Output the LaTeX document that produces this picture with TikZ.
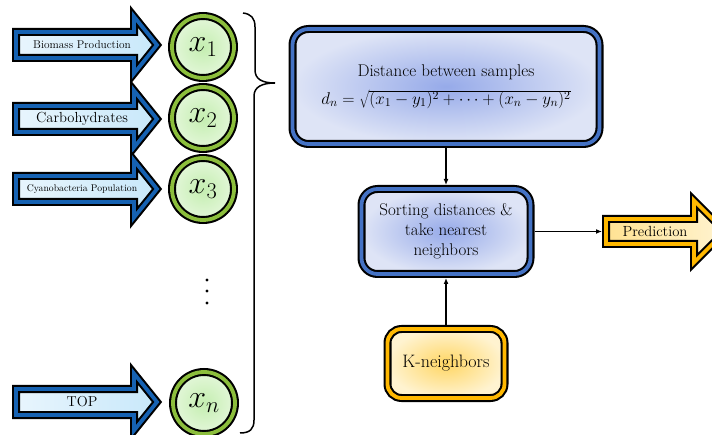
\RequirePackage{fix-cm}
\documentclass[tikz,border=0pt]{standalone}
\usetikzlibrary{arrows.meta}

\definecolor{inborder}{RGB}{22,98,178}
\definecolor{inmid}{RGB}{140,206,247}
\definecolor{inedge}{RGB}{232,245,253}
\definecolor{inright}{RGB}{200,232,250}
\definecolor{grborder}{RGB}{140,190,60}
\definecolor{grin}{RGB}{196,238,176}
\definecolor{grout}{RGB}{228,247,218}
\definecolor{bxborder}{RGB}{68,114,196}
\definecolor{bxin}{RGB}{150,170,233}
\definecolor{bxout}{RGB}{222,228,246}
\definecolor{orborder}{RGB}{255,184,0}
\definecolor{orin}{RGB}{255,214,100}
\definecolor{orout}{RGB}{255,243,208}

\tikzset{
  triple/.style={draw=black, double=#1, line width=2.1pt, double distance=3.8pt},
  inarrow/.style={triple=inborder, line join=miter,
    left color=inedge, middle color=inmid, right color=inright},
  feature/.style={circle, minimum size=62pt, inner sep=0pt, outer sep=4pt,
    triple=grborder, inner color=grin, outer color=grout},
  bluebox/.style={rectangle, rounded corners=16pt, triple=bxborder,
    inner color=bxin, outer color=bxout, align=center, outer sep=4pt,
    font=\fontsize{17}{20}\selectfont},
  goldbox/.style={rectangle, rounded corners=14pt, triple=orborder,
    inner color=orin, outer color=orout, align=center, outer sep=4pt,
    font=\fontsize{18}{21}\selectfont},
  outarrow/.style={triple=orborder, line join=miter,
    left color=orin!70!white, right color=orout},
  link/.style={line width=1.2pt, -{Latex[length=6pt,width=5pt]}},
  label/.style={inner sep=0pt},
}

% block arrow pointing right, centred on the given height
\newcommand\featurearrow[1]{%
  \path[inarrow] (16,#1-13) -- (134,#1-13) -- (134,#1-28.5) -- (157,#1)
    -- (134,#1+28.5) -- (134,#1+13) -- (16,#1+13) -- cycle;}

\begin{document}
\begin{tikzpicture}[x=1pt, y=-1pt]
\useasboundingbox (0,0) rectangle (712,435);
\clip (0,0) rectangle (712,435);

% input features
\featurearrow{45}
\featurearrow{119}
\featurearrow{189}
\featurearrow{402}
\node[label, font=\fontsize{11.3}{13}\selectfont] (f1) at (82,45) {Biomass Production};
\node[label, font=\fontsize{14.6}{17}\selectfont] (f2) at (82,119) {Carbohydrates};
\node[label, font=\fontsize{9.7}{11}\selectfont] (f3) at (82,189) {Cyanobacteria Population};
\node[label, font=\fontsize{14.4}{17}\selectfont] (f4) at (82,402) {TOP};

\node[feature] (x1) at (203,47) {\fontsize{32}{38}\selectfont$x_1$};
\node[feature] (x2) at (203,118) {\fontsize{32}{38}\selectfont$x_2$};
\node[feature] (x3) at (203,189) {\fontsize{32}{38}\selectfont$x_3$};
\node[feature] (xn) at (204,403) {\fontsize{32}{38}\selectfont$x_n$};

% vertical ellipsis
\foreach \yy in {280,291,303} \fill (207,\yy) circle (1.7);

% brace gathering the features
\draw[line width=1.5pt]
  (243,13) .. controls (251,14) and (255,18) .. (255,27) -- (255,70)
  .. controls (255,79) and (262,83) .. (275,83)
  .. controls (262,83) and (254,87) .. (254,96) -- (254,420)
  .. controls (254,429) and (250,433) .. (240,433);

% processing steps
\node[bluebox, minimum width=307pt, minimum height=115pt] (dist) at (446,86.5)
  {Distance between samples\\[8pt]
   $d_n=\sqrt{(x_1-y_1)^2+\cdots+(x_n-y_n)^2}$};
\node[bluebox, minimum width=169pt, minimum height=85pt] (sort) at (446,231.5)
  {Sorting distances \&\\take nearest\\neighbors};
\node[goldbox, minimum width=117pt, minimum height=69pt] (k) at (446,363.5)
  {K-neighbors};

% output arrow
\path[outarrow] (606,219) -- (694,219) -- (694,200.5) -- (725,231.5)
  -- (694,262.5) -- (694,244) -- (606,244) -- cycle;
\node[label, font=\fontsize{14.7}{17}\selectfont] (pred) at (655,231.5) {Prediction};
\coordinate (predtail) at (602,231.5);

% connectors
\draw[link] (dist.south) -- (sort.north);
\draw[link] (k.north) -- (sort.south);
\draw[link] (sort.east) -- (predtail);
\end{tikzpicture}
\end{document}
